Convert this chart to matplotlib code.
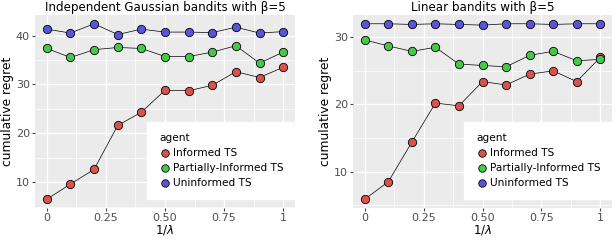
import matplotlib
matplotlib.use("Agg")
import matplotlib.pyplot as plt
from matplotlib.ticker import FixedLocator

x = [0, 0.1, 0.2, 0.3, 0.4, 0.5, 0.6, 0.7, 0.8, 0.9, 1.0]
agents = ["Informed TS", "Partially-Informed TS", "Uninformed TS"]
colors = ["#D9534A", "#48C84A", "#5A55D8"]

gauss_informed = [6.5, 9.6, 12.6, 21.6, 24.3, 28.8, 28.7, 29.8, 32.6, 31.4, 33.5]
gauss_partial = [37.35, 35.5, 37.1, 37.55, 37.35, 35.7, 35.7, 36.6, 37.9, 34.35, 36.6]
gauss_uninformed = [41.3, 40.5, 42.4, 40.2, 41.3, 40.7, 40.7, 40.6, 41.7, 40.5, 40.8]

lin_informed = [5.9, 8.5, 14.4, 20.2, 19.8, 23.4, 22.9, 24.5, 25.0, 23.4, 27.0]
lin_partial = [29.6, 28.7, 27.9, 28.5, 26.0, 25.8, 25.6, 27.3, 27.9, 26.5, 26.7]
lin_uninformed = [32.0, 32.0, 31.9, 32.0, 31.9, 31.8, 32.0, 32.0, 31.9, 32.0, 32.0]

xticks = [0, 0.25, 0.5, 0.75, 1.0]
xticklabels = ["0", "0.25", "0.50", "0.75", "1"]

W, H = 616, 242
fig = plt.figure(figsize=(W / 100, H / 100), dpi=100)

def make_panel(left_px, right_px, title, series, yticks):
    top_px, bot_px = 15, 208
    ax = fig.add_axes([left_px / W, 1 - bot_px / H, (right_px - left_px) / W, (bot_px - top_px) / H])
    ax.set_facecolor("#EBEBEB")
    for s in ax.spines.values():
        s.set_visible(False)
    ax.set_xticks(xticks)
    ax.set_xticklabels(xticklabels)
    ax.xaxis.set_minor_locator(FixedLocator([0.125, 0.375, 0.625, 0.875]))
    ax.set_yticks(yticks)
    ax.yaxis.set_minor_locator(FixedLocator([v + 5 for v in yticks] + [yticks[0] - 5]))
    ax.grid(True, which="major", color="white", lw=1.0)
    ax.grid(True, which="minor", color="white", lw=0.5)
    ax.set_axisbelow(True)
    ax.tick_params(which="major", length=2.2, width=0.8, color="#444444",
                   labelcolor="#4D4D4D", labelsize=8, pad=1.5)
    ax.tick_params(which="minor", length=0)
    allv = [v for s in series for v in s]
    lo, hi = min(allv), max(allv)
    r = hi - lo
    ax.set_ylim(lo - 0.05 * r, hi + 0.05 * r)
    ax.set_xlim(-0.05, 1.05)
    handles = []
    for vals, c, name in zip(series, colors, agents):
        ax.plot(x, vals, color="black", lw=0.5, zorder=2)
        h = ax.scatter(x, vals, s=36, color=c, edgecolor="black", linewidth=0.6, zorder=3, label=name)
        handles.append(h)
    ax.set_title(title, fontsize=8.6, pad=3)
    ax.set_xlabel("1/$\\lambda$", fontsize=8.6, labelpad=0)
    ax.set_ylabel("cumulative regret", fontsize=8.8, labelpad=1)
    leg = ax.legend(handles=handles, title="agent", loc="lower right",
                    bbox_to_anchor=(1.0, 0.045), borderaxespad=0, fontsize=7.6, title_fontsize=7.6,
                    frameon=True, fancybox=False, edgecolor="white", framealpha=1,
                    handletextpad=0.1, labelspacing=0.45, borderpad=1.1,
                    handlelength=1.2, markerscale=0.9)
    leg._legend_box.align = "left"
    return ax

make_panel(35, 295, "Independent Gaussian bandits with β=5",
           [gauss_informed, gauss_partial, gauss_uninformed], [10, 20, 30, 40])
make_panel(353, 612, "Linear bandits with β=5",
           [lin_informed, lin_partial, lin_uninformed], [10, 20, 30])

fig.savefig("out.png", dpi=100)
